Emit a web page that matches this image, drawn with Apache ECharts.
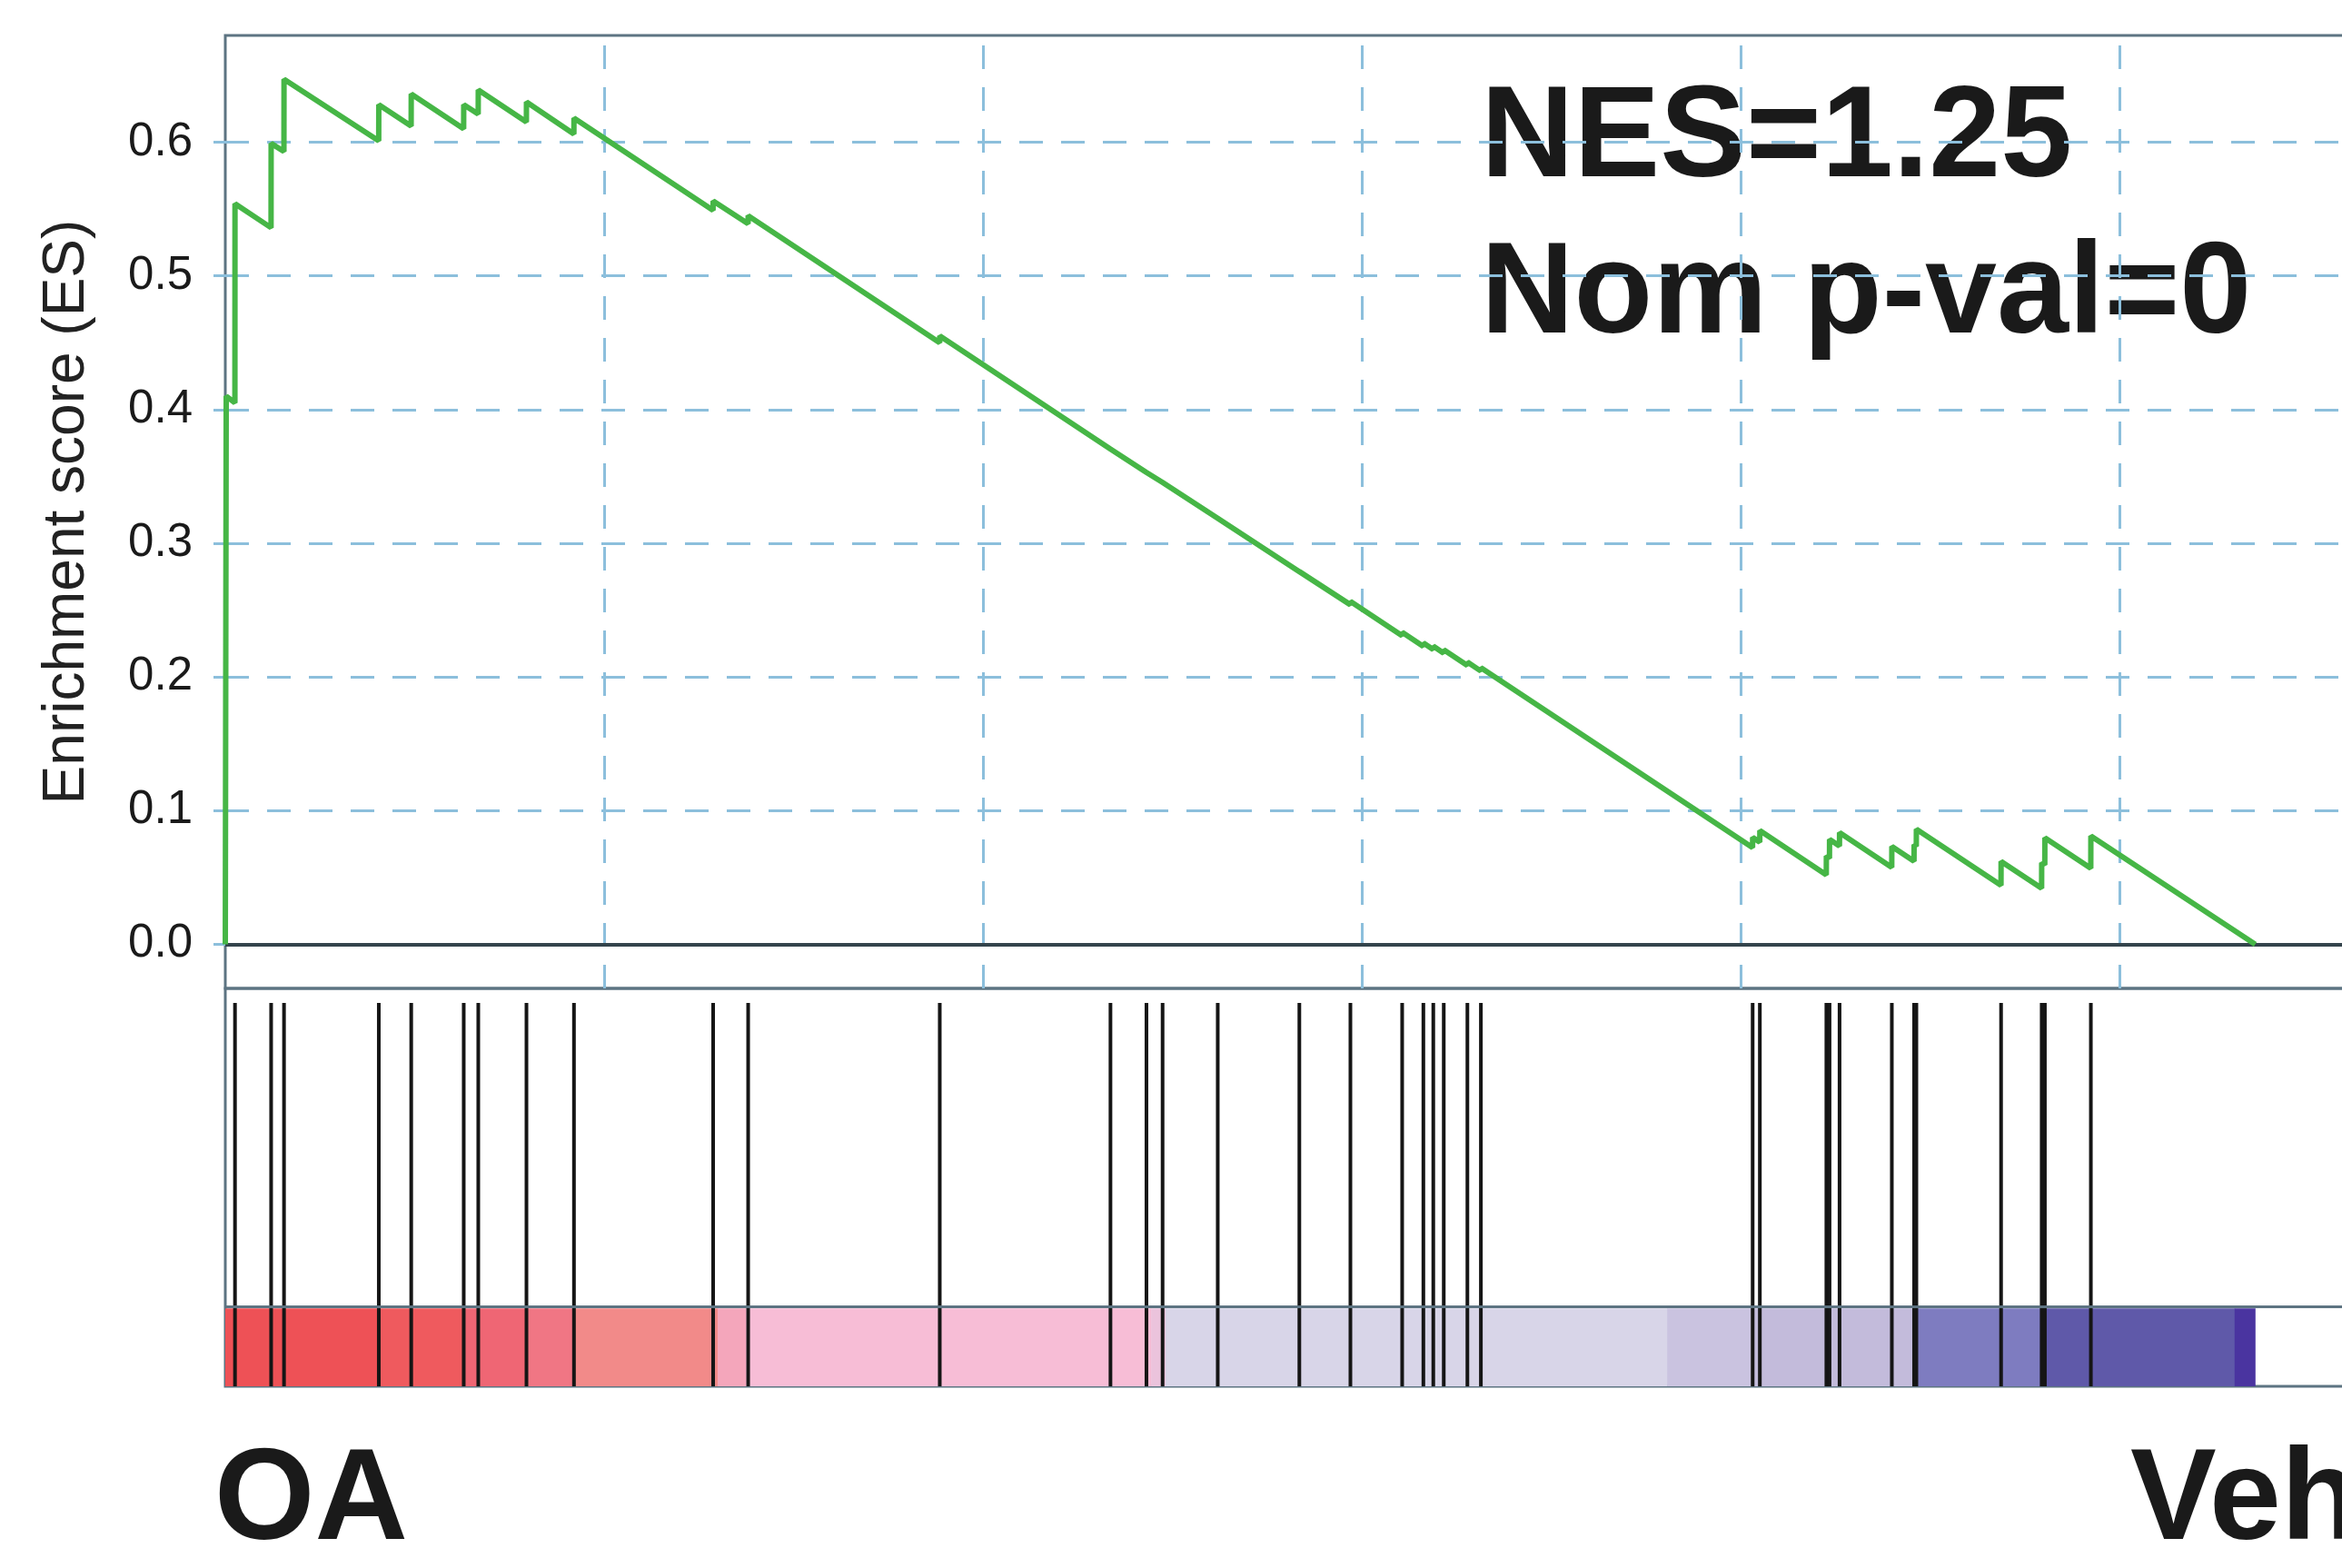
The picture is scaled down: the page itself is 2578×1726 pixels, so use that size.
<!DOCTYPE html>
<html>
<head>
<meta charset="utf-8">
<script src="https://cdn.jsdelivr.net/npm/echarts@6/dist/echarts.min.js"></script>
<style>
  html, body { margin: 0; padding: 0; background: #ffffff; overflow: hidden; }
  #chart { width: 2578px; height: 1726px; }
</style>
</head>
<body>
<div id="chart"></div>
<script>
// ---- data ----
// running enrichment score: rank position in the ranked gene list, and ES value there
const esRanks = [0, 12, 127, 128, 604, 605, 774, 775, 2025, 2026, 2453, 2454, 3146, 3147, 3338, 3339,
  3974, 3975, 4601, 4602, 6438, 6439, 6900, 6901, 9429, 9430, 11682, 11683, 12157, 12158, 12370, 12371,
  13098, 13099, 14175, 14176, 14849, 14850, 15532, 15533, 15812, 15813, 15943, 15944, 16081, 16082,
  16393, 16394, 16571, 16572, 20158, 20159, 20253, 20254, 21131, 21132, 21173, 21174, 21305, 21306,
  21995, 21996, 22289, 22290, 22319, 22320, 23437, 23438, 23973, 23974, 24015, 24016, 24622, 24623, 26793];
const esScores = [0, 0.410, 0.405, 0.554, 0.536, 0.599, 0.593, 0.647, 0.601, 0.628, 0.612, 0.636, 0.610, 0.628, 0.621, 0.639,
  0.615, 0.630, 0.606, 0.618, 0.549, 0.556, 0.539, 0.545, 0.450, 0.455, 0.3705, 0.371, 0.353, 0.3535, 0.3455, 0.346,
  0.3187, 0.3192, 0.2788, 0.2793, 0.254, 0.2565, 0.2309, 0.2334, 0.2229, 0.2254, 0.2205, 0.2230, 0.2178, 0.2203,
  0.2086, 0.2111, 0.2044, 0.2069, 0.0723, 0.080, 0.0764, 0.085, 0.052, 0.066, 0.0644, 0.0785, 0.0735, 0.0835,
  0.0576, 0.0732, 0.0622, 0.0745, 0.0734, 0.0861, 0.0441, 0.062, 0.0419, 0.061, 0.0594, 0.0796, 0.0568, 0.081, 0];
// positions of the gene-set members (hits) in the ranked list
const hitRanks = [128, 605, 775, 2026, 2454, 3147, 3339, 3975, 4602, 6439, 6901, 9430, 11683, 12158, 12371,
  13099, 14176, 14850, 15533, 15813, 15944, 16082, 16394, 16572, 20159, 20254, 21132, 21174, 21306,
  21996, 22290, 22320, 23438, 23974, 24016, 24623];
// ranked-list metric heat bar: segment edges (ranks) and the colour of each segment
const heatEdges = [0, 2030, 3150, 3990, 4600, 6500, 6870, 12220, 12410, 19030, 20180, 22270, 23950, 26520, 26790];
const heatColors = ['#ee5156', '#ef5a5e', '#ef6674', '#f07684', '#f28a89', '#f4a6bb', '#f7bdd6', '#ebc3dc',
  '#d8d5e8', '#cac3e0', '#c3bbdb', '#7e7cc0', '#5f59a9', '#4a34a0'];
// axis ticks
const yTicks = [0, 0.1, 0.2, 0.3, 0.4, 0.5, 0.6];
const xTicks = [5000, 10000, 15000, 20000, 25000];
// texts
const yName = 'Enrichment score (ES)';
const statLines = ['NES=1.25', 'Nom p-val=0'];
const leftLabel = 'OA';
const rightLabel = 'Vehicle';

// ---- layout constants ----
const XMAX = 30000;
const YMIN = -0.033, YMAX = 0.6798;
const HEAT_TOP = 0.196, HIT_TOP = 0.9635;
const FONT = '"Liberation Sans", Arial, Helvetica, sans-serif';
const frameColor = '#5d7482';
const gridBlue = '#8cbfdc';

const heatData = heatColors.map((c, i) => [heatEdges[i], heatEdges[i + 1], i]);
const esData = esRanks.map((r, i) => [r, esScores[i]]);

const chart = echarts.init(document.getElementById('chart'), null, { renderer: 'canvas' });

const gridLineData = xTicks.map(v => ({ xAxis: v }))
  .concat(yTicks.filter(v => v > 0).map(v => ({ yAxis: v })))
  .concat([{ yAxis: 0, lineStyle: { type: 'solid', color: '#34444c', width: 4 } }]);

chart.setOption({
  animation: false,
  backgroundColor: '#ffffff',
  grid: [
    { left: 248, top: 39, width: 2502, height: 1049, outerBoundsMode: 'none', containLabel: false,
      show: true, borderColor: frameColor, borderWidth: 3, backgroundColor: 'transparent' },
    { left: 248, top: 1088, width: 2502, height: 438, outerBoundsMode: 'none', containLabel: false,
      show: true, borderColor: frameColor, borderWidth: 3, backgroundColor: 'transparent' }
  ],
  xAxis: [
    { gridIndex: 0, type: 'value', min: 0, max: XMAX, show: false },
    { gridIndex: 1, type: 'value', min: 0, max: XMAX, show: false }
  ],
  yAxis: [
    {
      gridIndex: 0, type: 'value', min: YMIN, max: YMAX,
      name: yName, nameLocation: 'middle', nameGap: 142, nameRotate: 90,
      nameTextStyle: { fontFamily: FONT, fontSize: 64, color: '#222222' },
      axisLine: { show: false },
      splitLine: { show: false },
      axisTick: { show: true, length: 13, customValues: yTicks, lineStyle: { color: gridBlue, width: 3 } },
      axisLabel: {
        customValues: yTicks, margin: 36, fontFamily: FONT, fontSize: 51, color: '#1a1a1a',
        formatter: v => Number(v).toFixed(1)
      }
    },
    { gridIndex: 1, type: 'value', min: 0, max: 1, show: false }
  ],
  series: [
    {
      type: 'line', xAxisIndex: 0, yAxisIndex: 0, data: esData, z: 3,
      symbol: 'none', lineStyle: { color: '#46b646', width: 6 }, clip: true,
      markLine: {
        z: 1, silent: true, symbol: ['none', 'none'], label: { show: false },
        lineStyle: { type: [26, 20], color: gridBlue, width: 3 },
        data: gridLineData
      }
    },
    {
      type: 'custom', xAxisIndex: 1, yAxisIndex: 1, data: heatData, z: 2,
      encode: { x: [0, 1] },
      renderItem: (params, api) => {
        const p1 = api.coord([api.value(0), 0]);
        const p2 = api.coord([api.value(1), HEAT_TOP]);
        return {
          type: 'rect',
          shape: { x: p1[0], y: p2[1], width: p2[0] - p1[0] + 0.5, height: p1[1] - p2[1] },
          style: { fill: heatColors[api.value(2)] }
        };
      },
      markLine: {
        silent: true, symbol: ['none', 'none'], label: { show: false },
        lineStyle: { type: 'solid', color: frameColor, width: 3 },
        data: [{ yAxis: HEAT_TOP }]
      }
    },
    {
      type: 'custom', xAxisIndex: 1, yAxisIndex: 1, data: hitRanks.map(r => [r]), z: 4,
      encode: { x: 0 },
      renderItem: (params, api) => {
        const a = api.coord([api.value(0), 0]);
        const b = api.coord([api.value(0), HIT_TOP]);
        return {
          type: 'line',
          shape: { x1: a[0], y1: a[1], x2: b[0], y2: b[1] },
          style: { stroke: '#151515', lineWidth: 4 }
        };
      }
    }
  ],
  graphic: [
    { type: 'text', left: 1630, top: 84, style: { text: statLines[0], font: 'bold 142px ' + FONT, fill: '#1a1a1a' } },
    { type: 'text', left: 1630, top: 256, style: { text: statLines[1], font: 'bold 142px ' + FONT, fill: '#1a1a1a' } },
    { type: 'text', left: 236, top: 1584, style: { text: leftLabel, font: 'bold 142px ' + FONT, fill: '#1a1a1a' } },
    { type: 'text', left: 2345, top: 1584, style: { text: rightLabel, font: 'bold 142px ' + FONT, fill: '#1a1a1a' } }
  ]
});
</script>
</body>
</html>
